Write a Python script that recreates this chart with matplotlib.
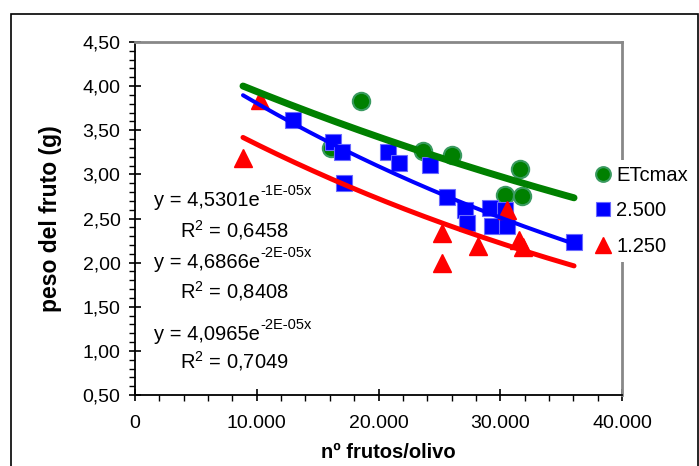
import matplotlib
matplotlib.use("Agg")
import matplotlib.pyplot as plt
from matplotlib.patches import Rectangle
from matplotlib.ticker import MultipleLocator, FuncFormatter
import numpy as np

plt.rcParams["font.family"] = ["Liberation Sans", "DejaVu Sans"]
plt.rcParams["mathtext.fontset"] = "custom"
plt.rcParams["mathtext.rm"] = "Liberation Sans"

# ETcmax
x_etc = [16100, 18560, 23650, 26040, 31620, 30390, 31790]
y_etc = [3.30, 3.83, 3.265, 3.22, 3.06, 2.77, 2.755]
# 2.500
x_2500 = [12980, 16260, 17000, 17170, 20780, 21680, 24230, 25630, 27100,
          27270, 29160, 30390, 29320, 30550, 36060]
y_2500 = [3.616, 3.367, 3.254, 2.90, 3.254, 3.13, 3.106, 2.744, 2.596,
          2.449, 2.619, 2.596, 2.415, 2.415, 2.234]
# 1.250
x_1250 = [8870, 10270, 25220, 25220, 28170, 30550, 31540, 31870]
y_1250 = [3.186, 3.843, 2.336, 1.996, 2.188, 2.596, 2.256, 2.177]

labels = ["ETcmax", "2.500", "1.250"]
# exponential trendlines y = a*exp(b*x)
fit_a = [4.5301, 4.6866, 4.0965]
fit_b = [-1.40e-5, -2.08e-5, -2.04e-5]
eq_main = ["y = 4,5301e", "y = 4,6866e", "y = 4,0965e"]
eq_sup = ["-1E-05x", "-2E-05x", "-2E-05x"]
r2_text = ["R$^{\\mathregular{2}}$ = 0,6458",
           "R$^{\\mathregular{2}}$ = 0,8408",
           "R$^{\\mathregular{2}}$ = 0,7049"]

W, H = 699, 466
fig = plt.figure(figsize=(W / 100, H / 100), dpi=100)
ax = fig.add_axes([135 / W, 1 - 395 / H, (622 - 135) / W, (395 - 42) / H])

# outer frame
fig.add_artist(Rectangle((11 / W, -0.05), (698 - 11) / W, 1.05 - 14 / H,
                         transform=fig.transFigure, fill=False,
                         edgecolor="black", linewidth=1.2))

h1, = ax.plot(x_etc, y_etc, "o", color="#008000", markeredgecolor="#3a9a60",
              markeredgewidth=1.5, markersize=12.5, linestyle="none", zorder=3)
h2, = ax.plot(x_2500, y_2500, "s", color="#0000ff", markeredgecolor="#6a6aff",
              markeredgewidth=0.8, markersize=11.5, linestyle="none", zorder=4)
h3, = ax.plot(x_1250, y_1250, "^", color="#ff0000", markeredgecolor="#ff0000",
              markersize=13, linestyle="none", zorder=5)

all_x = x_etc + x_2500 + x_1250
xx = np.linspace(min(all_x), max(all_x), 200)
line_cols = ["#008000", "#0000ff", "#ff0000"]
line_w = [5.0, 2.9, 3.6]
for a, b, c, lw in zip(fit_a, fit_b, line_cols, line_w):
    ax.plot(xx, a * np.exp(b * xx), color=c, linewidth=lw,
            solid_capstyle="round", zorder=6)

ax.set_xlim(0, 40000)
ax.set_ylim(0.5, 4.5)
ax.xaxis.set_major_locator(MultipleLocator(10000))
ax.xaxis.set_minor_locator(MultipleLocator(2000))
ax.yaxis.set_major_locator(MultipleLocator(0.5))
ax.yaxis.set_minor_locator(MultipleLocator(0.1))
ax.xaxis.set_major_formatter(FuncFormatter(
    lambda v, p: "0" if v == 0 else f"{int(v):,}".replace(",", ".")))
ax.yaxis.set_major_formatter(FuncFormatter(
    lambda v, p: f"{v:.2f}".replace(".", ",")))

ax.tick_params(which="major", direction="inout", length=9, width=1.2,
               labelsize=14)
ax.tick_params(which="minor", direction="out", length=4, width=1.0)
ax.tick_params(axis="y", which="both", right=False)
ax.tick_params(axis="y", which="major", pad=6)
ax.tick_params(axis="x", which="both", top=False)
ax.tick_params(axis="x", which="major", pad=10)

for s in ["left", "bottom"]:
    ax.spines[s].set_color("black")
    ax.spines[s].set_linewidth(1.3)
for s in ["top", "right"]:
    ax.spines[s].set_color("#888888")
    ax.spines[s].set_linewidth(2)

ax.set_xlabel("nº frutos/olivo", fontsize=14.5, fontweight="bold")
ax.set_ylabel("peso del fruto (g)", fontsize=16.5, fontweight="bold")
ax.xaxis.set_label_coords(0.52, -(443 - 395) / 353)
ax.yaxis.set_label_coords(-(135 - 62) / 487, 0.5)

# trendline equations
eq_base = [206, 268, 340]
r2_base = [237, 298, 368]
for i in range(3):
    fig.text(260 / W, 1 - eq_base[i] / H, eq_main[i], fontsize=14.5,
             ha="right", va="baseline")
    fig.text(260 / W, 1 - (eq_base[i] - 11) / H, eq_sup[i], fontsize=10.5,
             ha="left", va="baseline")
    fig.text(234 / W, 1 - r2_base[i] / H, r2_text[i], fontsize=14.5,
             ha="center", va="baseline")

leg = fig.legend([h1, h2, h3], labels, loc="center left",
                 bbox_to_anchor=(575 / W, 1 - 211 / H), fontsize=14.5,
                 frameon=True, facecolor="white", edgecolor="none",
                 framealpha=1, handletextpad=0.05, labelspacing=0.8,
                 borderpad=0.3, handlelength=1.2, markerscale=0.85)
leg.set_zorder(10)

fig.savefig("out.png", dpi=100)
